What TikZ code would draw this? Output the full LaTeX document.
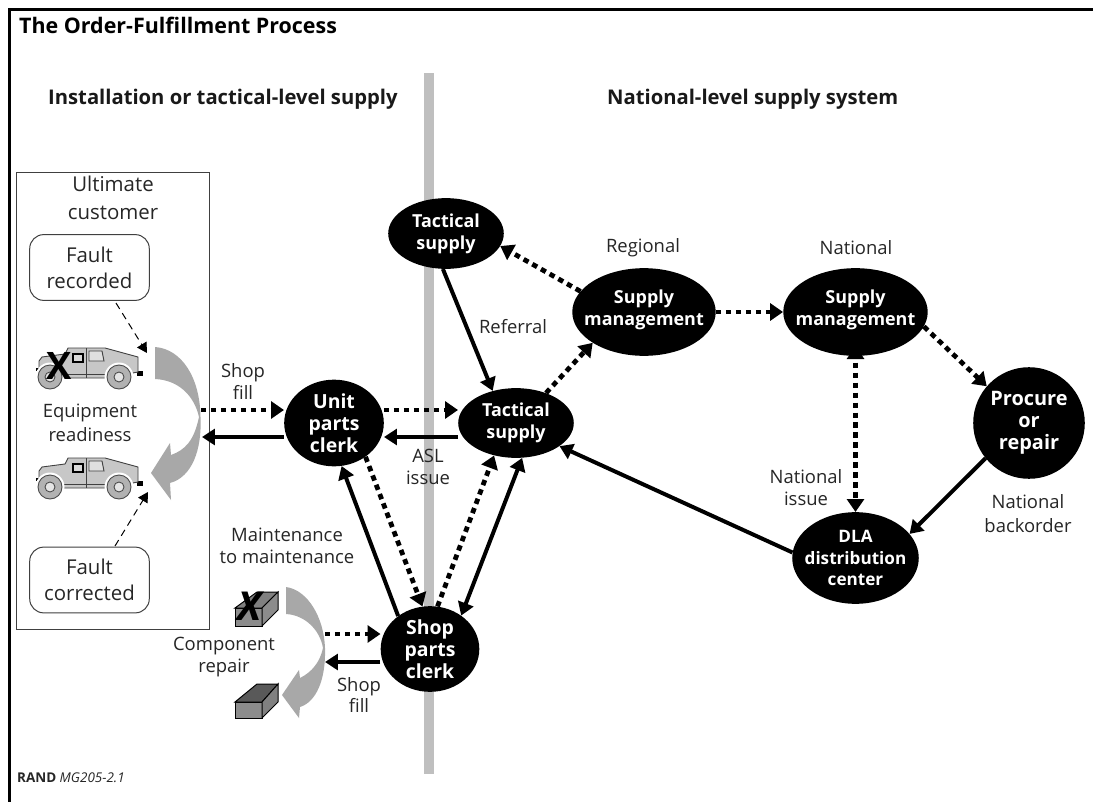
\documentclass[tikz,border=0pt]{standalone}
\usepackage{fontspec}
\setmainfont{Open Sans}
\usetikzlibrary{arrows.meta,shapes.geometric}
\definecolor{arcgray}{gray}{0.66}
\definecolor{bargray}{gray}{0.75}
\tikzset{
  bubble/.style={ellipse,fill=black,inner sep=0pt},
  bubtext/.style={text=white,font=\fontsize{18}{22}\selectfont\bfseries,align=center,inner sep=0pt},
  lab/.style={font=\fontsize{18.5}{22}\selectfont,align=center,text=black!85,inner sep=0pt},
  headtext/.style={font=\fontsize{20.3}{24}\selectfont\bfseries,inner sep=0pt,anchor=west,text=black!90},
  solidarr/.style={line width=4pt,-{Triangle[length=13pt,width=16pt]}},
  soliddbl/.style={line width=4pt,{Triangle[length=13pt,width=16pt]}-{Triangle[length=13pt,width=16pt]}},
  dotarr/.style={line width=4.8pt,dash pattern=on 5.5pt off 4.5pt,-{Triangle[length=13pt,width=17pt]}},
  dotdbl/.style={line width=4.8pt,dash pattern=on 5.5pt off 4.5pt,dash phase=5.5pt,{Triangle[length=13pt,width=17pt]}-{Triangle[length=13pt,width=17pt]}},
  thinarr/.style={line width=1pt,dash pattern=on 7pt off 5pt,-{Triangle[length=10pt,width=11pt]}},
  faultbox/.style={draw=black!75,line width=1pt,rounded corners=14pt,align=center,text=black!85,font=\fontsize{20.5}{26}\selectfont,minimum width=120,minimum height=66,inner sep=0pt,fill=white},
}
\newcommand{\humvee}[2]{%
  \begin{scope}[shift={(#1,#2)}]
    \fill[black] (-9,21) rectangle (3,24);
    \fill[black] (92,24) rectangle (98,29);
    \fill[black!22,draw=black!75,line width=.9pt] (-6,24) -- (-6,14) -- (-3,10) -- (20,7) -- (23,1) -- (60,1) -- (93,10) -- (93,25) -- (62,31) -- (17,31) -- cycle;
    \draw[black!75,line width=.9pt] (41,1) -- (41,31);
    \draw[black!75,line width=.9pt] (17,27) -- (60,27);
    \fill[black!12,draw=black!75,line width=.9pt] (44,4) -- (57,4) -- (59,14) -- (44,14) -- cycle;
    \fill[black!15,draw=black,line width=1.8pt] (28,7) -- (38,7) -- (38,15) -- (28,15) -- cycle;
    \foreach \xx in {5,74}{
      \fill[white] (\xx,30) circle (14.5);
      \fill[black!30,draw=black!70,line width=.9pt] (\xx,30) circle (12);
      \fill[black!10,draw=black!70,line width=.9pt] (\xx,30) circle (5);
    }
  \end{scope}}
\begin{document}
\begin{tikzpicture}[x=1bp,y=-1bp]
\useasboundingbox (0,0) rectangle (1093,802);
\fill[white] (0,0) rectangle (1093,802);
% frame
\draw[line width=3pt,black] (9.5,802) -- (9.5,9.5) -- (1093,9.5);
% central bar
\fill[bargray] (424,73) rectangle (434,774);
% ultimate customer panel
\fill[white] (16,172) rectangle (209,629);
\draw[black!75,line width=1pt] (16,172) rectangle (209,629);
\node[headtext,font=\fontsize{21.5}{24}\selectfont\bfseries,text=black] (title) at (19,25) {The Order-Fulfillment Process};
\node[headtext] (instal) at (48,99) {Installation or tactical-level supply};
\node[headtext] (natl) at (607,99) {National-level supply system};
\node[lab,font=\fontsize{20.5}{28}\selectfont] (ult) at (113,198) {Ultimate\\customer};
\node[faultbox] (frec) at (89.5,267.5) {Fault\\recorded};
\node[faultbox] (fcor) at (89.5,580) {Fault\\corrected};
\node[lab,font=\fontsize{18.5}{24}\selectfont] (eqr) at (90,423) {Equipment\\readiness};
% customer big arc
\fill[arcgray] (155,347) .. controls (182,349) and (200,378) .. (200.5,417)
  .. controls (202,450) and (192,477) .. (170,483) -- (171,500) -- (151,473) -- (170,443) -- (171,455)
  .. controls (185,450) and (194,441) .. (199,417) .. controls (194,395) and (178,380) .. (155,379) -- cycle;
\humvee{45}{347}
\humvee{45}{457}
\node[font=\fontsize{38}{38}\selectfont\bfseries,inner sep=0pt] (xa) at (59.5,366) {X};
\coordinate (frec-from) at (116,303);
\coordinate (frec-end) at (147,353);
\coordinate (fcor-from) at (115,546);
\coordinate (fcor-end) at (148,492);
\draw[thinarr] (frec-from) -- (frec-end);
\draw[thinarr] (fcor-from) -- (fcor-end);
% bubbles
\node[bubble,minimum width=116,minimum height=71] (ts1) at (446,233.5) {};
\node[bubtext] at (ts1) {Tactical\\supply};
\node[bubble,minimum width=144,minimum height=88] (sm1) at (644,312) {};
\node[bubtext] at (644,310) {Supply\\management};
\node[bubble,minimum width=145,minimum height=88] (sm2) at (855.5,312) {};
\node[bubtext] at (855.5,310) {Supply\\management};
\node[bubble,minimum width=112,minimum height=112] (proc) at (1029,423) {};
\node[bubtext,font=\fontsize{20}{22}\selectfont\bfseries] at (proc) {Procure\\or\\repair};
\node[bubble,minimum width=127,minimum height=92] (dla) at (855.5,558) {};
\node[bubtext,font=\fontsize{17.2}{22}\selectfont\bfseries] at (dla) {DLA\\distribution\\center};
\node[bubble,minimum width=116,minimum height=70] (ts2) at (516,423) {};
\node[bubtext] at (ts2) {Tactical\\supply};
\node[bubble,minimum width=100,minimum height=87] (upc) at (334,423) {};
\node[bubtext,font=\fontsize{19.5}{22}\selectfont\bfseries] at (upc) {Unit\\parts\\clerk};
\node[bubble,minimum width=99,minimum height=86] (spc) at (430,649) {};
\node[bubtext,font=\fontsize{19.5}{22}\selectfont\bfseries] at (spc) {Shop\\parts\\clerk};
% labels
\node[lab] (sf1) at (243,381.5) {Shop\\fill};
\node[lab] (ref) at (513,327) {Referral};
\node[lab] (asl) at (428,467) {ASL\\issue};
\node[lab] (reg) at (643,248) {Regional};
\node[lab] (nat) at (856,248) {National};
\node[lab] (ni) at (806,487.5) {National\\issue};
\node[lab,font=\fontsize{18.5}{24}\selectfont] (nb) at (1028,514) {National\\backorder};
\node[lab] (mm) at (287,546) {Maintenance\\to maintenance};
\node[lab] (cr) at (224,657) {Component\\repair};
\node[lab] (sf2) at (359,695) {Shop\\fill};
\node[font=\fontsize{13.5}{16}\selectfont,inner sep=0pt,anchor=west,text=black!85] (rand) at (17,778) {\textbf{RAND} \textit{MG205-2.1}};
% boxes
\fill[black!45,draw=black,line width=1pt] (235,608) rectangle (262,626);
\fill[black!50,draw=black,line width=1pt] (235,608) -- (257,592) -- (278,592) -- (262,608) -- cycle;
\fill[black!45,draw=black,line width=1pt] (262,608) -- (278,592) -- (278,610) -- (262,626) -- cycle;
\node[font=\fontsize{40}{40}\selectfont\bfseries\itshape,inner sep=0pt] (xb) at (250,606) {X};
\fill[black!45,draw=black,line width=1pt] (235,702) rectangle (262,718);
\fill[black!65,draw=black,line width=1pt] (235,702) -- (257,684) -- (278,684) -- (262,702) -- cycle;
\fill[black!50,draw=black,line width=1pt] (262,702) -- (278,684) -- (278,702) -- (262,718) -- cycle;
% component arc
\fill[arcgray] (286,587) .. controls (308,590) and (324,618) .. (325,648)
  .. controls (326,680) and (316,702) .. (300,707) -- (299,718) -- (282,695) -- (299,670) -- (300,678)
  .. controls (312,672) and (320,662) .. (323,648) .. controls (320,630) and (305,615) .. (286,614) -- cycle;
% connectors
\coordinate (cust-out) at (201,410);
\coordinate (cust-in) at (202,437);
\coordinate (comp-out) at (325,634);
\coordinate (comp-in) at (325,662);
\draw[dotarr] (cust-out) -- (upc.west |- cust-out);
\draw[solidarr] (upc.west |- cust-in) -- (cust-in);
\draw[dotarr] (upc.east |- 0,410) -- (ts2.west |- 0,410);
\draw[solidarr] (ts2.west |- 0,437) -- (upc.east |- 0,437);
\draw[solidarr] (ts1.265) -- (ts2.126);
\draw[dotarr] (sm1.162) -- (ts1.347);
\draw[dotarr] (ts2.45) -- (sm1.211);
\draw[dotarr] (sm1.east) -- (sm2.west);
\draw[dotarr] (sm2.348) -- (proc.139);
\draw[dotdbl,shorten <=-10pt] (sm2.south) -- (dla.north);
\draw[solidarr] (proc.219) -- (dla.24);
\draw[solidarr] (dla.175) -- (ts2.332);
\draw[dotarr] (upc.313) -- (spc.100);
\draw[solidarr] (spc.134) -- (upc.280);
\draw[dotarr] (spc.80) -- (ts2.236);
\draw[soliddbl] (spc.47) -- (ts2.280);
\draw[dotarr] (comp-out) -- (spc.west |- comp-out);
\draw[solidarr] (spc.west |- comp-in) -- (comp-in);
\end{tikzpicture}
\end{document}
